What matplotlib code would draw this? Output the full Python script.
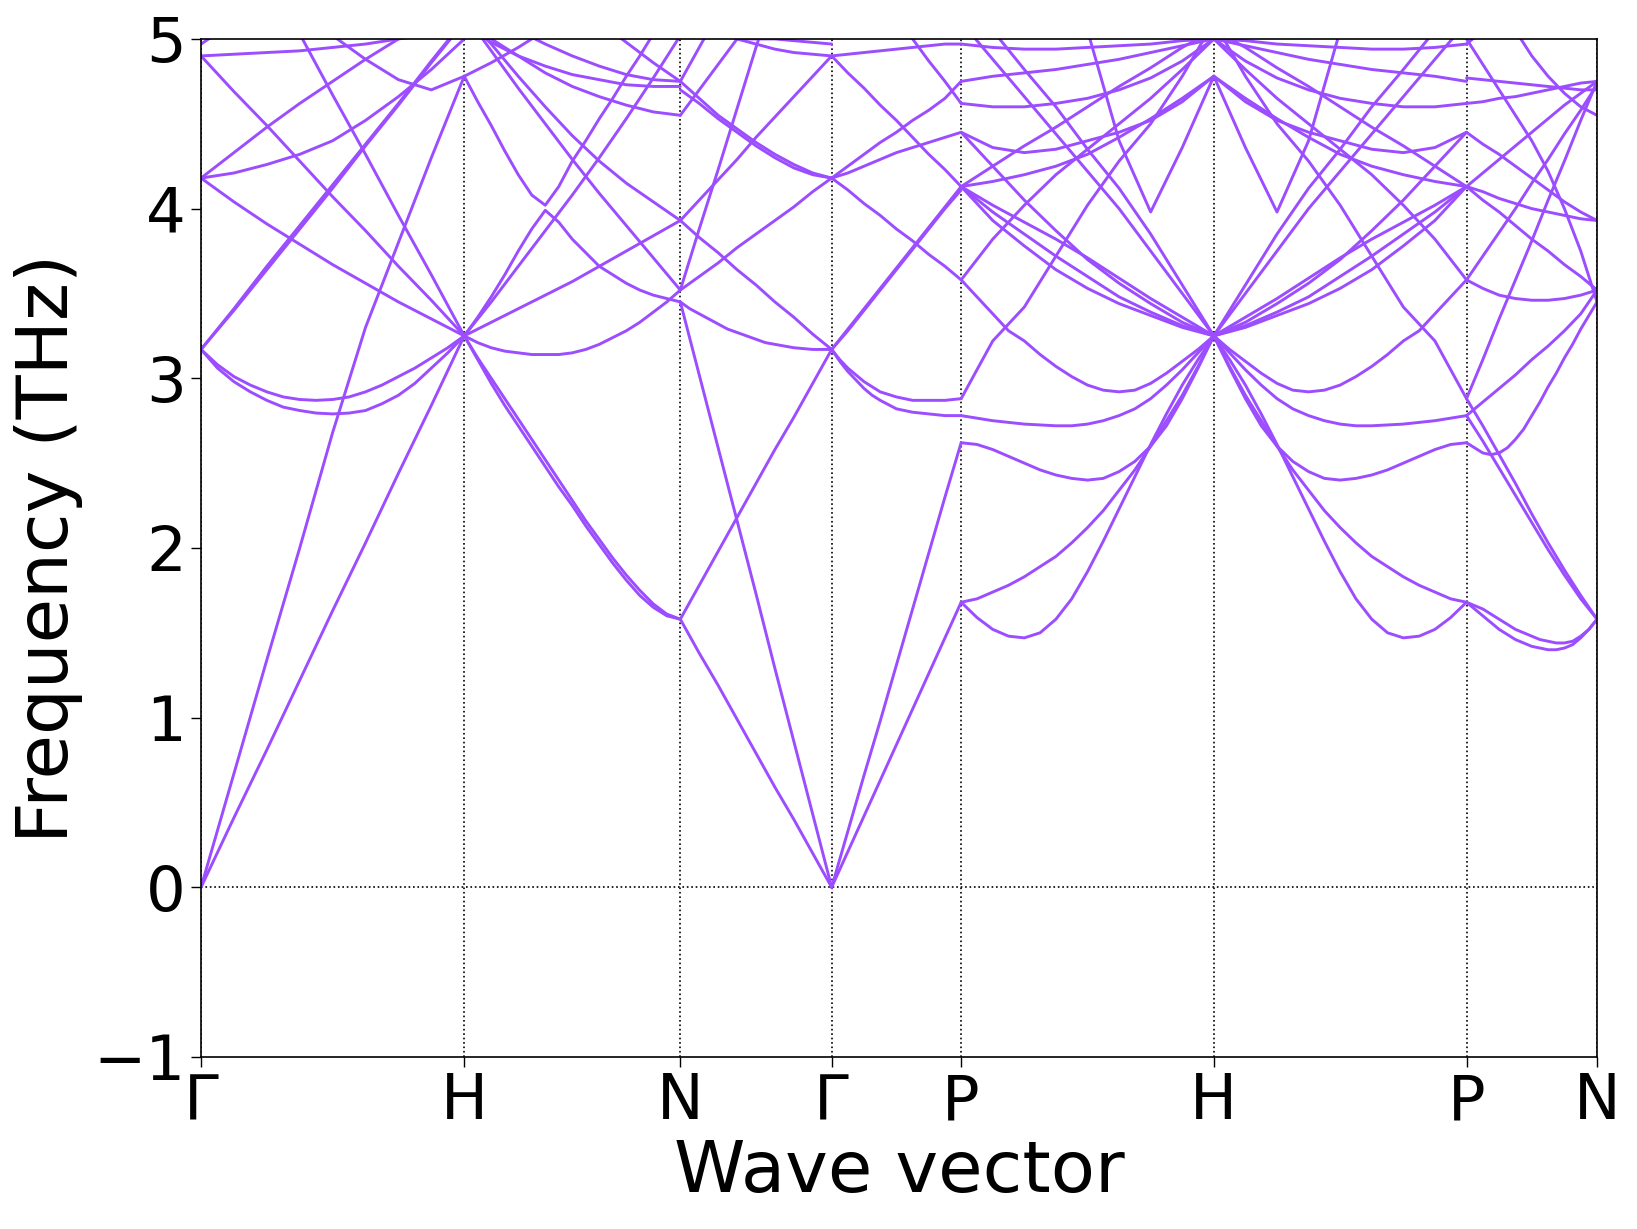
import matplotlib
matplotlib.use('Agg')
import matplotlib.pyplot as plt
import numpy as np

# ---------------- data ----------------
point_labels = ['Γ', 'H', 'N', 'Γ', 'P', 'H', 'P', 'N']
segment_lengths = [1.0, 0.821, 0.575, 0.492, 0.960, 0.960, 0.496]
# each band is a list of frequencies (THz) read at equally spaced points along its segment

# Γ -> H
seg_GH = [
    [0.00, 0.41, 0.81, 1.22, 1.63, 2.03, 2.44, 2.84, 3.25],
    [0.00, 0.67, 1.34, 2.00, 2.68, 3.30, 3.80, 4.30, 4.78],
    [3.17, 3.08, 3.01, 2.96, 2.92, 2.89, 2.875, 2.87, 2.875, 2.89, 2.92, 2.96, 3.01, 3.06, 3.12, 3.18, 3.25],
    [3.17, 3.06, 2.98, 2.92, 2.87, 2.83, 2.81, 2.795, 2.79, 2.795, 2.81, 2.85, 2.90, 2.97, 3.06, 3.15, 3.25],
    [3.17, 3.41, 3.66, 3.90, 4.14, 4.38, 4.62, 4.87, 5.11],
    [3.17, 3.40, 3.64, 3.88, 4.12, 4.37, 4.61, 4.86, 5.10],
    [4.18, 4.04, 3.91, 3.79, 3.67, 3.56, 3.45, 3.35, 3.25],
    [4.90, 4.69, 4.49, 4.28, 4.07, 3.87, 3.66, 3.46, 3.25],
    [4.18, 4.33, 4.48, 4.62, 4.75, 4.88, 5.00, 5.10, 5.20],
    [4.18, 4.21, 4.26, 4.32, 4.40, 4.52, 4.66, 4.82, 5.00],
    [5.60, 5.45, 5.30, 5.15, 5.02, 4.88, 4.76, 4.70, 4.78],
    [4.90, 4.91, 4.92, 4.93, 4.95, 4.97, 5.00, 5.03, 5.06],
    [5.90, 5.60, 5.35, 5.03, 4.67, 4.32, 3.96, 3.61, 3.25],
    [4.97, 5.10, 5.22, 5.34, 5.46, 5.58, 5.70, 5.82, 5.94],
]

# H -> N
seg_HN = [
    [3.25, 3.12, 3.00, 2.88, 2.76, 2.64, 2.52, 2.40, 2.28, 2.16, 2.05, 1.94, 1.84, 1.75, 1.67, 1.61, 1.58],
    [3.25, 3.11, 2.97, 2.84, 2.72, 2.60, 2.48, 2.36, 2.25, 2.13, 2.02, 1.91, 1.81, 1.72, 1.65, 1.60, 1.58],
    [3.25, 3.21, 3.18, 3.16, 3.15, 3.14, 3.14, 3.14, 3.15, 3.17, 3.20, 3.24, 3.28, 3.33, 3.39, 3.45, 3.52],
    [3.25, 3.33, 3.41, 3.49, 3.57, 3.66, 3.75, 3.84, 3.93],
    [3.25, 3.45, 3.66, 3.87, 4.08, 4.30, 4.53, 4.77, 5.02],
    [3.25, 3.36, 3.48, 3.61, 3.75, 3.88, 3.99, 3.92, 3.82, 3.74, 3.66, 3.61, 3.56, 3.52, 3.49, 3.47, 3.45],
    [4.78, 4.63, 4.49, 4.34, 4.20, 4.08, 4.02, 4.13, 4.28, 4.40, 4.53, 4.65, 4.78, 4.90, 5.03, 5.15, 5.28],
    [5.15, 4.93, 4.71, 4.50, 4.29, 4.09, 3.90, 3.71, 3.52],
    [5.14, 4.97, 4.78, 4.60, 4.43, 4.28, 4.15, 4.04, 3.93],
    [4.78, 4.86, 4.95, 5.05, 5.15, 5.25, 5.35, 5.45, 5.55],
    [5.15, 5.00, 4.90, 4.80, 4.72, 4.66, 4.61, 4.57, 4.55],
    [5.08, 4.98, 4.90, 4.84, 4.79, 4.76, 4.73, 4.72, 4.72],
    [5.30, 5.15, 5.05, 4.97, 4.90, 4.84, 4.79, 4.76, 4.75],
    [5.60, 5.50, 5.40, 5.30, 5.20, 5.10, 4.98, 4.86, 4.75],
]

# N -> Γ
seg_NG = [
    [1.58, 1.38, 1.19, 0.99, 0.79, 0.59, 0.40, 0.20, 0.00],
    [1.58, 1.78, 1.98, 2.18, 2.38, 2.58, 2.77, 2.97, 3.17],
    [3.45, 3.02, 2.59, 2.16, 1.73, 1.29, 0.86, 0.43, 0.00],
    [3.52, 3.88, 4.23, 4.59, 4.95, 5.30, 5.66, 6.00, 6.40],
    [3.45, 3.41, 3.38, 3.35, 3.32, 3.29, 3.27, 3.25, 3.23, 3.21, 3.20, 3.19, 3.18, 3.175, 3.17, 3.17, 3.17],
    [3.93, 3.83, 3.74, 3.64, 3.55, 3.45, 3.36, 3.26, 3.17],
    [3.52, 3.60, 3.68, 3.77, 3.85, 3.93, 4.01, 4.10, 4.18],
    [3.93, 4.05, 4.17, 4.29, 4.42, 4.54, 4.66, 4.78, 4.90],
    [4.75, 4.65, 4.55, 4.47, 4.39, 4.32, 4.26, 4.21, 4.18],
    [4.70, 4.62, 4.53, 4.45, 4.37, 4.30, 4.24, 4.20, 4.18],
    [4.55, 4.70, 4.85, 5.00, 5.15, 5.30, 5.45, 5.60, 5.75],
    [5.30, 5.15, 5.05, 5.00, 4.97, 4.94, 4.92, 4.91, 4.90],
    [4.75, 4.95, 5.15, 5.35, 5.55, 5.75, 5.95, 6.15, 6.35],
    [5.40, 5.20, 5.05, 5.00, 5.00, 5.00, 4.99, 4.98, 4.97],
]

# Γ -> P
seg_GP = [
    [0.00, 0.21, 0.42, 0.63, 0.84, 1.05, 1.26, 1.47, 1.68],
    [0.00, 0.33, 0.66, 0.98, 1.31, 1.64, 1.97, 2.30, 2.62],
    [3.17, 3.11, 3.06, 3.02, 2.98, 2.95, 2.92, 2.905, 2.89, 2.88, 2.87, 2.87, 2.87, 2.87, 2.87, 2.875, 2.88],
    [3.17, 3.10, 3.04, 2.99, 2.94, 2.90, 2.87, 2.845, 2.82, 2.81, 2.80, 2.795, 2.79, 2.785, 2.78, 2.78, 2.78],
    [3.17, 3.29, 3.41, 3.53, 3.65, 3.77, 3.89, 4.01, 4.13],
    [3.17, 3.28, 3.40, 3.52, 3.64, 3.76, 3.88, 4.00, 4.11],
    [4.18, 4.11, 4.03, 3.96, 3.88, 3.81, 3.73, 3.66, 3.58],
    [4.18, 4.25, 4.32, 4.39, 4.45, 4.52, 4.58, 4.65, 4.75],
    [4.18, 4.21, 4.25, 4.29, 4.33, 4.36, 4.39, 4.42, 4.45],
    [4.90, 4.80, 4.71, 4.61, 4.52, 4.42, 4.32, 4.23, 4.13],
    [4.90, 4.91, 4.92, 4.93, 4.94, 4.95, 4.96, 4.97, 4.97],
    [5.50, 5.40, 5.30, 5.20, 5.10, 5.00, 4.87, 4.75, 4.62],
]

# P -> H
seg_PH = [
    [1.68, 1.59, 1.52, 1.48, 1.47, 1.50, 1.58, 1.70, 1.86, 2.04, 2.23, 2.42, 2.61, 2.79, 2.96, 3.11, 3.25],
    [1.68, 1.70, 1.74, 1.78, 1.83, 1.89, 1.95, 2.03, 2.12, 2.22, 2.34, 2.46, 2.60, 2.75, 2.90, 3.07, 3.25],
    [2.62, 2.61, 2.58, 2.54, 2.50, 2.46, 2.43, 2.41, 2.40, 2.41, 2.45, 2.51, 2.60, 2.72, 2.88, 3.06, 3.25],
    [2.78, 2.765, 2.75, 2.74, 2.73, 2.725, 2.72, 2.72, 2.73, 2.75, 2.78, 2.82, 2.88, 2.96, 3.05, 3.15, 3.25],
    [2.88, 3.22, 3.42, 3.72, 4.02, 4.28, 4.50, 4.78, 5.10],
    [3.58, 3.48, 3.38, 3.28, 3.22, 3.14, 3.07, 3.01, 2.96, 2.93, 2.92, 2.93, 2.97, 3.03, 3.10, 3.17, 3.25],
    [3.58, 3.82, 4.02, 4.20, 4.35, 4.50, 4.65, 4.82, 5.00],
    [4.13, 3.93, 3.78, 3.64, 3.53, 3.44, 3.37, 3.30, 3.25],
    [4.13, 3.98, 3.85, 3.72, 3.60, 3.48, 3.39, 3.31, 3.25],
    [4.13, 4.02, 3.92, 3.82, 3.71, 3.59, 3.47, 3.36, 3.25],
    [4.13, 4.25, 4.37, 4.48, 4.60, 4.72, 4.83, 4.95, 5.05],
    [4.13, 4.16, 4.20, 4.25, 4.32, 4.42, 4.53, 4.65, 4.78],
    [4.45, 4.36, 4.33, 4.35, 4.40, 4.45, 4.52, 4.63, 4.78],
    [4.45, 4.25, 4.05, 3.87, 3.70, 3.56, 3.44, 3.33, 3.25],
    [4.75, 4.78, 4.80, 4.82, 4.85, 4.88, 4.92, 4.96, 5.00],
    [4.62, 4.60, 4.60, 4.62, 4.65, 4.70, 4.77, 4.87, 5.00],
    [4.97, 4.95, 4.94, 4.94, 4.95, 4.96, 4.97, 4.99, 5.00],
    [5.10, 4.88, 4.66, 4.44, 4.22, 4.00, 3.75, 3.50, 3.25],
    [5.30, 5.05, 4.82, 4.60, 4.35, 4.12, 3.85, 3.55, 3.25],
    [6.80, 6.50, 6.10, 5.70, 5.05, 4.40, 3.98, 4.36, 4.78],
]

# H -> P
seg_HP = [
    [3.25, 3.11, 2.96, 2.79, 2.61, 2.42, 2.23, 2.04, 1.86, 1.70, 1.58, 1.50, 1.47, 1.48, 1.52, 1.59, 1.68],
    [3.25, 3.07, 2.90, 2.75, 2.60, 2.46, 2.34, 2.22, 2.12, 2.03, 1.95, 1.89, 1.83, 1.78, 1.74, 1.70, 1.68],
    [3.25, 3.06, 2.88, 2.72, 2.60, 2.51, 2.45, 2.41, 2.40, 2.41, 2.43, 2.46, 2.50, 2.54, 2.58, 2.61, 2.62],
    [3.25, 3.15, 3.05, 2.96, 2.88, 2.82, 2.78, 2.75, 2.73, 2.72, 2.72, 2.725, 2.73, 2.74, 2.75, 2.765, 2.78],
    [5.10, 4.78, 4.50, 4.28, 4.02, 3.72, 3.42, 3.22, 2.88],
    [3.25, 3.17, 3.10, 3.03, 2.97, 2.93, 2.92, 2.93, 2.96, 3.01, 3.07, 3.14, 3.22, 3.28, 3.38, 3.48, 3.58],
    [5.00, 4.82, 4.65, 4.50, 4.35, 4.20, 4.02, 3.82, 3.58],
    [3.25, 3.30, 3.37, 3.44, 3.53, 3.64, 3.78, 3.93, 4.13],
    [3.25, 3.31, 3.39, 3.48, 3.60, 3.72, 3.85, 3.98, 4.13],
    [3.25, 3.36, 3.47, 3.59, 3.71, 3.82, 3.92, 4.02, 4.13],
    [5.05, 4.95, 4.83, 4.72, 4.60, 4.48, 4.37, 4.25, 4.13],
    [4.78, 4.65, 4.53, 4.42, 4.32, 4.25, 4.20, 4.16, 4.13],
    [4.78, 4.63, 4.52, 4.45, 4.40, 4.35, 4.33, 4.36, 4.45],
    [3.25, 3.33, 3.44, 3.56, 3.70, 3.87, 4.05, 4.25, 4.45],
    [5.00, 4.96, 4.92, 4.88, 4.85, 4.82, 4.80, 4.78, 4.75],
    [5.00, 4.87, 4.77, 4.70, 4.65, 4.62, 4.60, 4.60, 4.62],
    [5.00, 4.99, 4.97, 4.96, 4.95, 4.94, 4.94, 4.95, 4.97],
    [3.25, 3.50, 3.75, 4.00, 4.22, 4.44, 4.66, 4.88, 5.10],
    [3.25, 3.55, 3.85, 4.12, 4.35, 4.60, 4.82, 5.05, 5.30],
    [4.78, 4.36, 3.98, 4.40, 5.05, 5.70, 6.10, 6.50, 6.80],
]

# P -> N
seg_PN = [
    [1.68, 1.64, 1.60, 1.56, 1.52, 1.49, 1.46, 1.44, 1.42, 1.41, 1.40, 1.40, 1.41, 1.43, 1.47, 1.52, 1.58],
    [1.68, 1.66, 1.64, 1.61, 1.58, 1.55, 1.52, 1.50, 1.48, 1.46, 1.45, 1.44, 1.44, 1.45, 1.48, 1.52, 1.58],
    [2.88, 2.72, 2.55, 2.38, 2.20, 2.03, 1.87, 1.72, 1.58],
    [2.78, 2.63, 2.47, 2.31, 2.15, 1.99, 1.84, 1.70, 1.58],
    [2.62, 2.59, 2.56, 2.55, 2.56, 2.59, 2.64, 2.70, 2.78, 2.86, 2.95, 3.03, 3.12, 3.20, 3.29, 3.37, 3.45],
    [2.78, 2.86, 2.94, 3.02, 3.11, 3.19, 3.28, 3.38, 3.52],
    [2.88, 3.11, 3.35, 3.58, 3.81, 4.05, 4.28, 4.52, 4.75],
    [3.58, 3.53, 3.49, 3.47, 3.46, 3.46, 3.47, 3.49, 3.52],
    [3.58, 3.72, 3.86, 4.00, 4.15, 4.29, 4.44, 4.58, 4.73],
    [4.13, 4.10, 4.06, 4.03, 4.00, 3.98, 3.96, 3.94, 3.93],
    [4.13, 4.05, 3.98, 3.90, 3.82, 3.75, 3.67, 3.60, 3.52],
    [4.13, 4.21, 4.29, 4.37, 4.45, 4.53, 4.61, 4.68, 4.75],
    [4.45, 4.38, 4.32, 4.25, 4.18, 4.11, 4.04, 3.98, 3.93],
    [4.77, 4.76, 4.75, 4.74, 4.73, 4.72, 4.71, 4.70, 4.70],
    [4.62, 4.63, 4.65, 4.66, 4.68, 4.70, 4.72, 4.74, 4.75],
    [5.00, 4.85, 4.70, 4.55, 4.40, 4.22, 4.00, 3.75, 3.45],
    [5.60, 5.40, 5.22, 5.05, 4.90, 4.78, 4.68, 4.60, 4.55],
    [4.97, 5.05, 5.15, 5.25, 5.35, 5.45, 5.55, 5.65, 5.75],
]

segments = [seg_GH, seg_HN, seg_NG, seg_GP, seg_PH, seg_HP, seg_PN]

y_ticks = [-1, 0, 1, 2, 3, 4, 5]
band_color = '#9b4dff'

# ---------------- plot ----------------
fig = plt.figure(figsize=(16.37, 12.29), dpi=100)
ax = fig.add_axes([0.1228, 0.1400, 0.8528, 0.8283])

tick_pos = [0.0]
for L in segment_lengths:
    tick_pos.append(tick_pos[-1] + L)

for i, seg in enumerate(segments):
    x0 = tick_pos[i]
    L = segment_lengths[i]
    for band in seg:
        xs = x0 + np.linspace(0.0, 1.0, len(band)) * L
        ax.plot(xs, band, color=band_color, lw=2.1, solid_capstyle='round',
                solid_joinstyle='round', zorder=2)

for xp in tick_pos:
    ax.axvline(xp, color='black', ls=':', lw=1.2, zorder=1)
ax.axhline(0, color='black', ls=':', lw=1.2, zorder=1)

ax.set_xlim(tick_pos[0], tick_pos[-1])
ax.set_ylim(-1, 5)
ax.set_xticks(tick_pos)
ax.set_xticklabels(point_labels)
ax.set_yticks(y_ticks)
ax.tick_params(axis='both', labelsize=45, length=7, width=1.0, pad=4)
ax.set_xlabel('Wave vector', fontsize=52, labelpad=4)
ax.set_ylabel('Frequency (THz)', fontsize=52, labelpad=8)
for s in ax.spines.values():
    s.set_linewidth(1.2)

fig.savefig('out.png', dpi=100)
